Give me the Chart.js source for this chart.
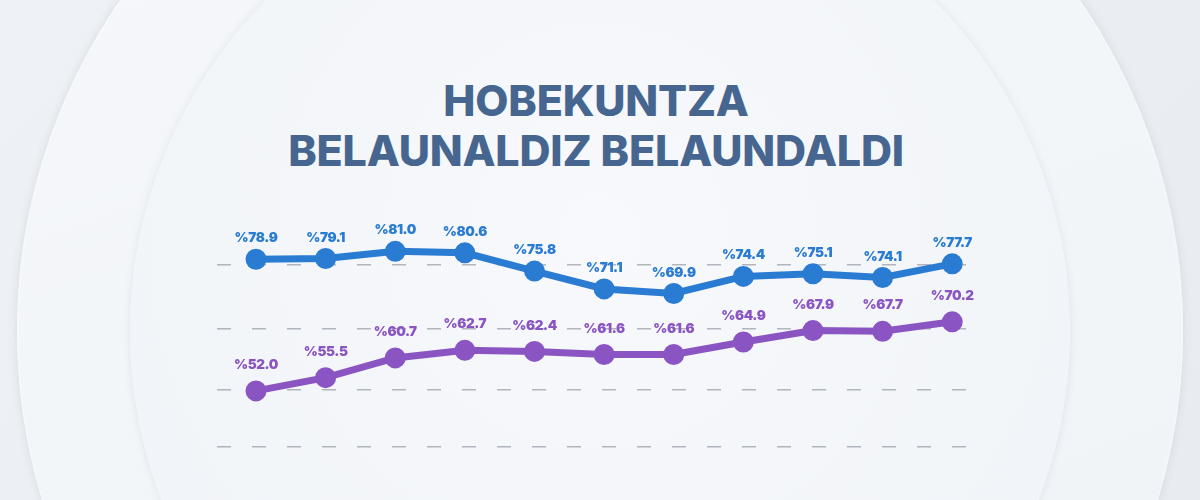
<!DOCTYPE html>
<html>
<head>
<meta charset="utf-8">
<script src="https://cdn.jsdelivr.net/npm/chart.js@4"></script>
<style>
  html, body { margin: 0; padding: 0; }
  body {
    width: 1200px; height: 500px; overflow: hidden; position: relative;
    background: linear-gradient(135deg, #eef1f5 0%, #e8ecf1 100%);
    font-family: Inter, "Noto Sans", sans-serif;
  }
  .ring {
    position: absolute; border-radius: 50%;
  }
  .ring.outer {
    left: 17px; top: -252px; width: 1166px; height: 1166px;
    background: linear-gradient(160deg, #f6f8fb 0%, #eef2f6 100%);
    box-shadow: 0 0 10px rgba(60,80,110,0.12), inset 0 0 3px rgba(255,255,255,0.9);
  }
  .ring.inner {
    left: 130px; top: -139px; width: 940px; height: 940px;
    background: radial-gradient(circle at 50% 40%, #f7f9fc 0%, #f1f4f8 70%, #eef2f6 100%);
    box-shadow: 0 0 8px rgba(60,80,110,0.10);
  }
  h1 {
    position: absolute; left: 0; right: 8px; top: 75px; margin: 0;
    text-align: center; color: #46668f;
    font-family: Inter, sans-serif; font-weight: 800; font-size: 43px;
    line-height: 50px; letter-spacing: -0.2px;
  }
  #wrap { position: absolute; left: 0; top: 0; width: 1200px; height: 500px; }
</style>
</head>
<body>
<div class="ring outer"></div>
<div class="ring inner"></div>
<h1>HOBEKUNTZA<br>BELAUNALDIZ BELAUNDALDI</h1>
<div id="wrap"><canvas id="chart" width="1200" height="500"></canvas></div>

<script>
// ── Data ─────────────────────────────────────────────────────────
const categories = ["1", "2", "3", "4", "5", "6", "7", "8", "9", "10", "11"];
const blueValues   = [78.9, 79.1, 81.0, 80.6, 75.8, 71.1, 69.9, 74.4, 75.1, 74.1, 77.7];
const purpleValues = [52.0, 55.5, 60.7, 62.7, 62.4, 61.6, 61.6, 64.9, 67.9, 67.7, 70.2];
const gridTicks    = [75, 50.5, 27, 5];

const BLUE   = "#2a7bd2";
const PURPLE = "#8a55c3";

// ── Value labels above points ────────────────────────────────────
const valueLabels = {
  id: "valueLabels",
  afterDatasetsDraw(chart) {
    const ctx = chart.ctx;
    ctx.save();
    ctx.font = "900 13.5px Inter, sans-serif";
    if ("letterSpacing" in ctx) ctx.letterSpacing = "-0.4px";
    ctx.textAlign = "center";
    ctx.textBaseline = "middle";
    chart.data.datasets.forEach((ds, i) => {
      const meta = chart.getDatasetMeta(i);
      ctx.fillStyle = ds.borderColor;
      meta.data.forEach((pt, j) => {
        ctx.fillText("%" + ds.data[j].y.toFixed(1), pt.x, pt.y - ds.labelOffset);
      });
    });
    ctx.restore();
  }
};

const toPoints = arr => arr.map((v, i) => ({ x: i, y: v }));

new Chart(document.getElementById("chart"), {
  type: "line",
  data: {
    labels: categories,
    datasets: [
      {
        data: toPoints(blueValues),
        borderColor: BLUE, backgroundColor: BLUE,
        borderWidth: 7, pointRadius: 7, pointHoverRadius: 7,
        tension: 0, yAxisID: "yBlue", labelOffset: 21,
      },
      {
        data: toPoints(purpleValues),
        borderColor: PURPLE, backgroundColor: PURPLE,
        borderWidth: 7, pointRadius: 7, pointHoverRadius: 7,
        tension: 0, yAxisID: "yPurple", labelOffset: 26,
      }
    ]
  },
  options: {
    responsive: false,
    animation: false,
    layout: { padding: { left: 217, right: 222, top: 200, bottom: 40 } },
    plugins: { legend: { display: false }, tooltip: { enabled: false } },
    scales: {
      x: { type: "linear", min: -0.56, max: 10.37, display: false },
      yBlue:   { min: 26.1, max: 94.5, display: false },
      yPurple: { min: 33.8, max: 102.3, display: false },
      g: {
        position: "left", min: 0, max: 100,
        afterBuildTicks: s => { s.ticks = gridTicks.map(v => ({ value: v })); },
        border: { display: false, dash: [14, 21] },
        ticks: { display: false },
        grid: {
          color: "rgba(160,165,175,0.8)", lineWidth: 1.5,
          drawTicks: false,
        },
      }
    }
  },
  plugins: [valueLabels]
});
</script>
</body>
</html>
